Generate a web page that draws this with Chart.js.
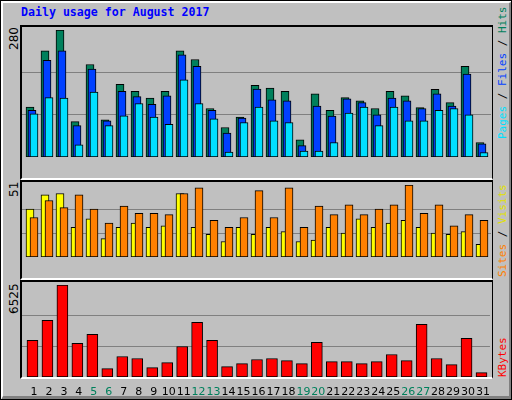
<!DOCTYPE html>
<html>
<head>
<meta charset="utf-8">
<script src="https://cdn.jsdelivr.net/npm/chart.js@4"></script>
<style>
  body { margin: 0; }
  #frame { position: relative; width: 512px; height: 400px; background: #c0c0c0; box-sizing: border-box;
    border: 1px solid #000; overflow: hidden; }
  #bevel { position: absolute; left: 0; top: 0; width: 506px; height: 393px;
    border-left: 2px solid #fff; border-top: 2px solid #fff; border-right: 4px solid #808080; border-bottom: 4px solid #808080; }
  .panel { position: absolute; left: 19px; width: 470px; box-sizing: content-box;
    border-top: 2px solid #000; border-left: 2px solid #000; border-right: 1px solid #000; border-bottom: 2px solid #fff; }
  canvas { position: absolute; }
  .title { position: absolute; left: 20px; top: 4px; font: bold 11.6px "DejaVu Sans Mono", monospace; color: #0000ff; }
  .vl { position: absolute; writing-mode: vertical-rl; transform: rotate(180deg); white-space: nowrap; }
  .num { font: 12px "DejaVu Sans", sans-serif; color: #000; left: 6px; width: 14px; text-align: end; }
  .leg { font: 11px "DejaVu Sans Mono", monospace; left: 495px; width: 14px; }
</style>
</head>
<body>
<div id="frame">
  <div id="bevel"></div>
  <div class="title">Daily usage for August 2017</div>
  <div class="panel" style="top:24px;height:151px"></div>
  <div class="panel" style="top:179px;height:96px"></div>
  <div class="panel" style="top:279px;height:95px"></div>
  <div class="vl num" style="top:26px;height:60px">280</div>
  <div class="vl num" style="top:181px;height:40px">51</div>
  <div class="vl num" style="top:282px;height:60px">6525</div>
  <div class="vl leg" style="top:28px;height:110px;text-align:start"><span style="color:#00e0ff">Pages</span> / <span style="color:#0040ff">Files</span> / <span style="color:#00805c">Hits</span></div>
  <div class="vl leg" style="top:190px;height:86px;text-align:start"><span style="color:#ff8000">Sites</span> / <span style="color:#e0e000">Visits</span></div>
  <div class="vl leg" style="top:320px;height:56px;text-align:start"><span style="color:#ff0000">KBytes</span></div>
  <canvas id="c1" width="469" height="147" style="left:21px;top:29px;width:469px;height:147px"></canvas>
  <canvas id="c2" width="469" height="92" style="left:21px;top:184px;width:469px;height:92px"></canvas>
  <canvas id="c3" width="469" height="112" style="left:21px;top:284px;width:469px;height:112px"></canvas>
</div>
<script>
const days = Array.from({length: 31}, (_, i) => i + 1);
const weekend = [5, 6, 12, 13, 19, 20, 26, 27];
const hits  = [110,234,280,78,204,82,160,145,130,145,234,215,107,65,88,158,152,145,38,139,103,131,124,107,145,135,109,149,120,200,32];
const files = [103,213,234,69,194,80,145,133,116,135,225,200,103,53,86,150,126,124,25,112,90,128,120,93,130,124,107,139,112,183,29];
const pages = [95,131,130,27,143,69,91,118,88,72,170,118,84,11,76,110,80,76,13,13,32,97,110,69,110,80,80,103,107,93,10];
const visits = [34,44,45,21,27,13,21,24,21,22,45,21,16,11,21,16,21,18,11,12,21,17,27,21,24,26,21,17,16,18,9];
const sites  = [28,40,35,44,34,24,36,31,31,30,45,49,26,21,28,47,28,49,21,36,30,37,30,34,37,51,31,37,22,30,26];
const kbytes = [2594,4022,6525,2380,3023,595,1452,1309,666,1023,2166,3879,2594,738,952,1238,1309,1166,952,2451,1095,1095,952,1095,1595,1166,3737,1309,881,2737,309];

const xMin = 0.467, xMax = 31.733;

function ds(values, shift, color, width, order) {
  return {
    data: values.map((v, i) => ({x: days[i] + shift, y: v})),
    backgroundColor: color, borderColor: '#000', borderWidth: 1,
    borderSkipped: false, barThickness: width, order: order, grouped: false
  };
}

function makeChart(id, datasets, max, showDays) {
  return new Chart(document.getElementById(id), {
    type: 'bar',
    data: {datasets: datasets},
    options: {
      responsive: false, animation: false,
      layout: {padding: 0},
      plugins: {legend: {display: false}, tooltip: {enabled: false}},
      scales: {
        x: {
          type: 'linear', min: xMin, max: xMax, display: showDays, offset: false,
          grid: {display: false}, border: {display: false},
          afterBuildTicks: s => { s.ticks = days.map(d => ({value: d + 4 / 15})); },
          afterFit: s => { s.height = 20; },
          ticks: {
            padding: 1, maxRotation: 0, autoSkip: false,
            font: {family: 'DejaVu Sans', size: 11},
            callback: v => Math.round(v - 4 / 15),
            color: c => weekend.includes(Math.round(c.tick.value - 4 / 15)) ? '#00805c' : '#000'
          }
        },
        y: {
          min: 0, max: max,
          afterBuildTicks: s => { s.ticks = [{value: max / 3}, {value: 2 * max / 3}]; },
          afterFit: s => { s.width = 0; },
          ticks: {display: false},
          border: {display: false},
          grid: {color: '#808080', drawTicks: false}
        }
      }
    }
  });
}

makeChart('c1', [
  ds(hits, 0, '#00805c', 8, 3),
  ds(files, 2 / 15, '#0040ff', 8, 2),
  ds(pages, 4 / 15, '#00e0ff', 8, 1)
], 280, false);

makeChart('c2', [
  ds(visits, 0, '#ffff00', 8, 2),
  ds(sites, 4 / 15, '#ff8000', 8, 1)
], 51, false);

makeChart('c3', [
  ds(kbytes, 2.5 / 15, '#ff0000', 11, 1)
], 6525, true);
</script>
</body>
</html>
